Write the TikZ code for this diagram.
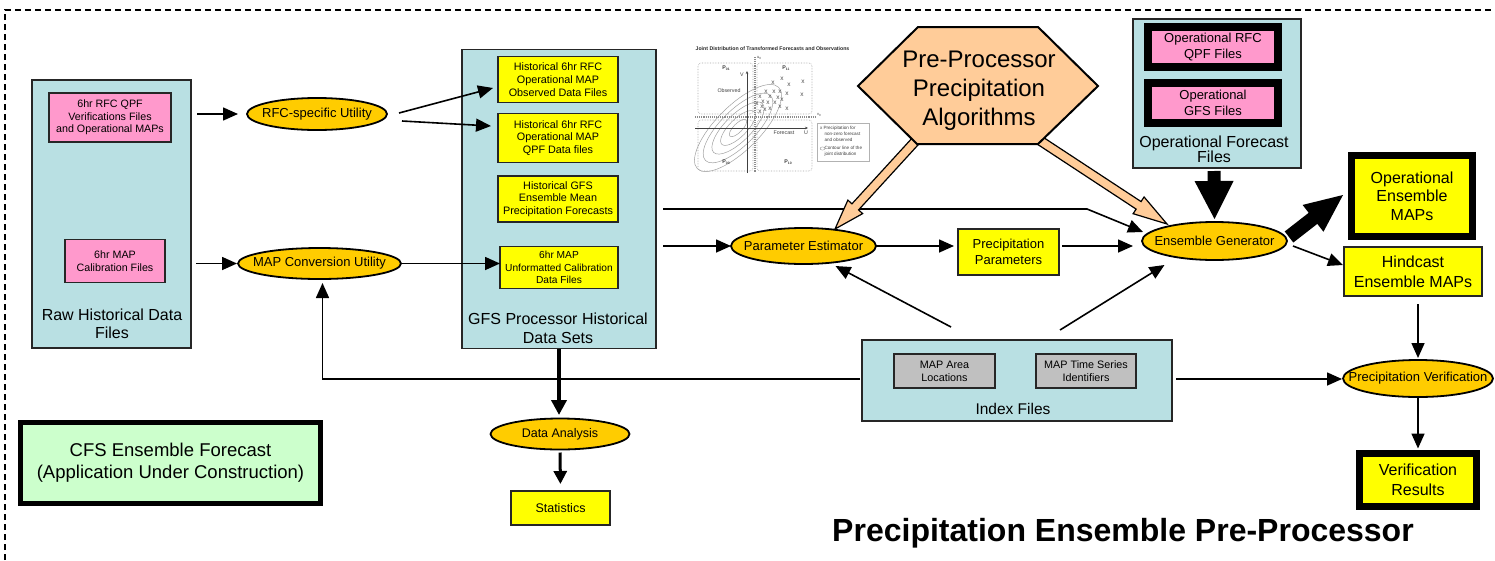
\documentclass[tikz,border=0pt]{standalone}
\usepackage{fontspec}
\setmainfont{Liberation Sans}
\usetikzlibrary{calc,arrows.meta,shapes.geometric}
\definecolor{boxblue}{HTML}{B9E0E3}
\definecolor{yellowc}{HTML}{FFFF00}
\definecolor{pinkc}{HTML}{FF99CC}
\definecolor{orangec}{HTML}{FFCC00}
\definecolor{peach}{HTML}{FFCC99}
\definecolor{greenc}{HTML}{CCFFCC}
\definecolor{grayc}{HTML}{C0C0C0}
\newcommand{\fsz}[2]{\fontsize{#1pt}{#2pt}\selectfont}
\newcommand{\zw}[1]{\makebox[0pt]{#1}}
\newcommand{\blockarr}[6]{%
  \coordinate (bah) at ($(#2)!#5!(#1)$);
  \path[#6] ($(#1)!#3!90:(#2)$) -- ($(bah)!#3!90:(#2)$) -- ($(bah)!#4!90:(#2)$) -- (#2)
    -- ($(bah)!#4!-90:(#2)$) -- ($(bah)!#3!-90:(#2)$) -- ($(#1)!#3!-90:(#2)$) -- cycle;}
\tikzset{
  every node/.style={inner sep=0pt, outer sep=0pt},
  sz/.style 2 args={minimum width=#1pt, minimum height=#2pt},
  box/.style={draw=black!85, line width=1.8pt, align=center},
  bluebox/.style={box, fill=boxblue},
  pinkb/.style={box, fill=pinkc, font=\fsz{10.7}{12.5}},
  yel/.style={box, fill=yellowc, font=\fsz{10.8}{12.7}},
  ell/.style={ellipse, draw=black, line width=1.8pt, fill=orangec, font=\fsz{13}{15}},
  heavy/.style={draw=black, line width=#1pt, align=center},
  arr/.style={line width=1.6pt, -{Triangle[length=15pt,width=13pt]}},
  ctext/.style={font=\fsz{5.3}{6}, text=black!75},
}
\begin{document}
\begin{tikzpicture}[x=1pt,y=-1pt]
\useasboundingbox (0,0) rectangle (1495,560);
% frame
\draw[line width=1.3pt, dash pattern=on 6pt off 4pt] (5,560) -- (5,10) -- (1495,10);

% raw historical
\node[bluebox, sz={159}{268}] (raw) at (111.5,214) {};
\node[font=\fsz{16}{18}, align=center] (rawl) at (112,324) {Raw Historical Data\\Files};
\node[pinkb, sz={122}{49}] (pk1) at (110,117.5) {6hr RFC QPF\\Verifications Files\\and Operational MAPs};
\node[pinkb, sz={100}{43}] (pk2) at (115,261) {6hr MAP\\Calibration Files};
\node[ell, sz={140}{32}] (rfc) at (317,114) {\zw{RFC-specific Utility}};
\node[ell, sz={163}{31}] (mapc) at (319.5,263.5) {\zw{MAP Conversion Utility}};

% GFS processor
\node[bluebox, sz={194}{299}] (gfs) at (559,199) {};
\node[font=\fsz{16}{19}, align=center] (gfsl) at (558,328) {GFS Processor Historical\\Data Sets};
\node[yel, sz={120}{46}] (y1) at (558,79.5) {Historical 6hr RFC\\Operational MAP\\Observed Data Files};
\node[yel, sz={120}{49}] (y2) at (558,138) {Historical 6hr RFC\\Operational MAP\\QPF Data files};
\node[yel, sz={120}{46}] (y3) at (558,199) {Historical GFS\\Ensemble Mean\\Precipitation Forecasts};
\node[yel, sz={118}{42}, font=\fsz{10.2}{12.5}] (y4) at (559,267.5) {6hr MAP\\Unformatted Calibration\\Data Files};

% middle
\node[ell, sz={145}{36}] (pe) at (803.5,246) {\zw{Parameter Estimator}};
\node[box, fill=yellowc, sz={101}{46}, font=\fsz{13}{16}] (pp) at (1008.5,252) {Precipitation\\Parameters};
\node[ell, sz={145}{38}] (eg) at (1214.5,241) {\zw{Ensemble Generator}};

% operational forecast files
\node[bluebox, sz={168}{149}] (off) at (1217,93.5) {};
\node[heavy=8, fill=pinkc, sz={130}{40}, font=\fsz{13}{16}] (orfc) at (1213,47) {Operational RFC\\QPF Files};
\node[heavy=8, fill=pinkc, sz={130}{40}, font=\fsz{13}{16}] (ogfs) at (1213,103) {Operational\\GFS Files};
\node[font=\fsz{16}{15.5}, align=center] (offl) at (1214,149.5) {Operational Forecast\\Files};

% outputs
\node[heavy=7, fill=yellowc, sz={121}{81}, font=\fsz{16}{18.3}] (oem) at (1412,196) {Operational\\Ensemble\\MAPs};
\node[box, fill=yellowc, sz={138}{49}, font=\fsz{16}{20}] (hind) at (1413,271.5) {Hindcast\\Ensemble MAPs};
\node[ell, sz={150}{37}] (pv) at (1418,378.5) {\zw{Precipitation Verification}};
\node[heavy=7, fill=yellowc, sz={117}{53}, font=\fsz{16}{20}] (vr) at (1418,480) {Verification\\Results};

% index files
\node[bluebox, sz={310}{81}] (idx) at (1017,380.5) {};
\node[box, fill=grayc, sz={101}{34}, font=\fsz{10.8}{13}] (g1) at (944.5,371) {MAP Area\\Locations};
\node[box, fill=grayc, sz={100}{34}, font=\fsz{10.8}{13}] (g2) at (1086,371) {MAP Time Series\\Identifiers};
\node[font=\fsz{15.5}{18}] (idxl) at (1013,408.5) {Index Files};

% analysis
\node[ell, sz={139}{31}, font=\fsz{12.5}{15}] (da) at (560,434) {\zw{Data Analysis}};
\node[box, fill=yellowc, sz={99}{34}, font=\fsz{12.5}{15}] (stats) at (560.5,508) {Statistics};

% CFS
\node[heavy=5, fill=greenc, sz={300}{81}, font=\fsz{18.5}{22}] (cfs) at (170.5,463) {CFS Ensemble Forecast\\(Application Under Construction)};

% title
\node[font=\bfseries\fsz{32}{36}, anchor=base] (title) at (1123,541) {Precipitation Ensemble Pre-Processor};

% connectors
\draw[arr, shorten <=6pt, shorten >=9pt] (raw.east |- rfc.west) -- (rfc.west);
\draw[arr, shorten <=5pt, shorten >=1pt] (raw.east |- mapc.west) -- (mapc.west);
\draw[arr] ($(rfc.east)+(12,-1)$) -- ($(y1.west)+(-5,8.5)$);
\draw[arr] ($(rfc.east)+(15,7)$) -- ($(y2.west)+(-7,-12)$);
\draw[arr] (mapc.east) -- (mapc.east -| y4.west);
\coordinate (bend1) at ($(eg.west)+(-55,-32)$);
\draw[arr] ($(gfs.east)+(7,10)$) -- (bend1) -- ($(eg.west)+(1,-9)$);
\draw[arr] ($(gfs.east)+(7,47)$) -- (pe.west);
\draw[arr, shorten >=4pt] (pe.east) -- (pe.east -| pp.west);
\draw[arr] ($(pp.east)+(3,-6)$) -- ($(eg.west)+(-9,5)$);
\draw[arr] ($(idx.north)+(-66,-13)$) -- ($(pe.south)+(32,2)$);
\draw[arr] ($(idx.north)+(43,-10)$) -- ($(eg.south)+(-50,5)$);
\draw[arr, shorten >=4pt] ($(idx.west)+(-2,-1.5)$) -| ($(mapc.south)+(3,0)$);
\draw[arr] ($(idx.east)+(4,-1.5)$) -- ($(pv.west)+(-1,0.5)$);
\draw[arr] ($(hind.south)+(5,8)$) -- ($(pv.north)+(0,-2)$);
\draw[arr, shorten >=5pt] (pv.south) -- (vr.north);
\draw[arr] ($(eg.east)+(6,5)$) -- ($(hind.west)+(-1,-6.5)$);
\draw[line width=4pt, -{Triangle[length=15pt,width=15pt]}, shorten >=3.5pt] (gfs.south) -- (gfs.south |- da.north);
\draw[line width=3pt, -{Triangle[length=13pt,width=13pt]}, shorten <=3pt, shorten >=7pt] (da.south) -- (stats.north);

% thick block arrows
\coordinate (a1s) at ($(off.south)+(-3,3)$);
\coordinate (a1e) at ($(eg.north)+(0,-3)$);
\blockarr{a1s}{a1e}{6.5pt}{19.5pt}{38pt}{fill=black}
\coordinate (a2s) at ($(eg.east)+(2,-4)$);
\coordinate (a2e) at ($(oem.west)+(-8.5,-1)$);
\blockarr{a2s}{a2e}{7pt}{17pt}{38pt}{fill=black}

% hexagon and peach arrows
\coordinate (hexbl) at (917,144);
\coordinate (hexbr) at (1038,144);
\coordinate (p1s) at ($(hexbl)+(4,-9)$);
\coordinate (p1e) at ($(pe.north)+(31.5,1)$);
\coordinate (p2s) at ($(hexbr)+(-8,-10)$);
\coordinate (p2e) at ($(eg.west)+(25,-17)$);
\blockarr{p1s}{p1e}{4.5pt}{10pt}{30pt}{fill=peach, draw=black, line width=1.2pt}
\blockarr{p2s}{p2e}{4.5pt}{10pt}{34pt}{fill=peach, draw=black, line width=1.2pt}
\draw[fill=peach, draw=black, line width=2pt] (858,86) -- (918,27) -- (1038,27) -- (1098,86) -- (hexbr) -- (hexbl) -- cycle;
\node[font=\fsz{24}{29}, align=center] (hexl) at (979,91) {Pre-Processor\\Precipitation\\Algorithms};

% chart
\node[font=\bfseries\fsz{5.2}{6}, text=black!85] (ct) at (772.5,49) {Joint Distribution of Transformed Forecasts and Observations};
\foreach \x/\y in {698/63, 757/63, 698/120, 757/120}
  \draw[gray!70, densely dotted, line width=0.6pt, rounded corners=3pt] (\x,\y) rectangle ++(55,51);
\foreach \r in {1,...,5}
  \draw[gray!75, line width=0.5pt, rotate around={45:(738,128)}] (738,128) ellipse [x radius=\r*11.5, y radius=\r*4.4];
\draw[gray!90, densely dotted, line width=1.1pt] (755,57) -- (755,172);
\draw[gray!90, densely dotted, line width=1.1pt] (695,117) -- (816,117);
\draw[black!75, line width=0.8pt, -{Stealth[length=3pt,width=2.5pt]}] (747,173) -- (747,71);
\draw[black!75, line width=0.8pt, -{Stealth[length=3pt,width=2.5pt]}] (695,128) -- (808,128);
\foreach \p [count=\i] in {(773,83),(782,79),(789,85),(803,82),(766,92),(774,92),(780,92),(787,94),(802,95),(760,97),(770,97),(778,98),(782,100),(763,102),(768,103),(775,103),(780,107),(787,109),(757,104),(762,107),(765,110),(770,109),(760,112)}
  \node[font=\fsz{6.5}{7}, text=black!70] (cx\i) at \p {x};
\node[ctext] (cobs) at (729,91) {Observed};
\node[ctext] (cfc) at (784,133) {Forecast};
\node[ctext] (cV) at (742,75) {V};
\node[ctext] (cU) at (806,133) {U};
\node[ctext, font=\bfseries\fsz{5.3}{6}] (cp1) at (726,68) {P\raisebox{-0.8pt}{\fsz{3.4}{4}01}};
\node[ctext, font=\bfseries\fsz{5.3}{6}] (cp2) at (786,68) {P\raisebox{-0.8pt}{\fsz{3.4}{4}11}};
\node[ctext, font=\bfseries\fsz{5.3}{6}] (cp3) at (726,162) {P\raisebox{-0.8pt}{\fsz{3.4}{4}00}};
\node[ctext, font=\bfseries\fsz{5.3}{6}] (cp4) at (788,162) {P\raisebox{-0.8pt}{\fsz{3.4}{4}10}};
\node[ctext, font=\fsz{4}{5}] (cu0) at (759,58) {u\raisebox{-0.6pt}{\fsz{3}{3}0}};
\node[ctext, font=\fsz{4}{5}] (cv0) at (819,115) {v\raisebox{-0.6pt}{\fsz{3}{3}0}};
\draw[gray!60, line width=0.5pt] (817,123) rectangle (869,161);
\node[ctext, font=\fsz{4.6}{6}, anchor=west, align=left] (cl1) at (820,133.5) {x\ Precipitation for\\\hspace{4.5pt}non-zero forecast\\\hspace{4.5pt}and observed};
\draw[gray!80, line width=0.4pt] (822.5,148.5) ellipse [x radius=2.4, y radius=1.6];
\node[ctext, font=\fsz{4.6}{6}, anchor=west, align=left] (cl2) at (824.5,151.5) {Contour line of the\\joint distribution};
\end{tikzpicture}
\end{document}
